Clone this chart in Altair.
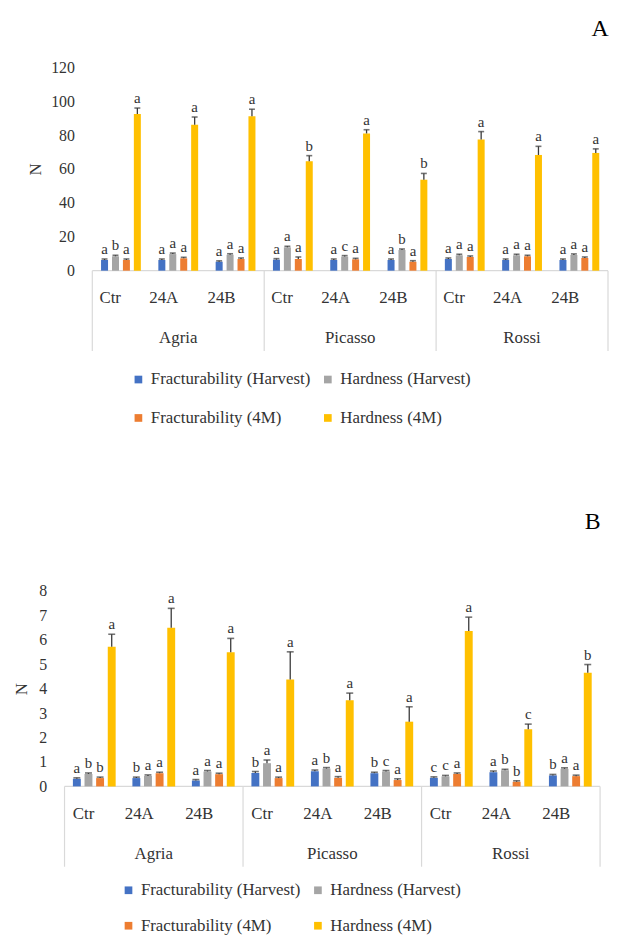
import altair as alt
import pandas as pd

groups = ["Agria", "Picasso", "Rossi"]
treatments = ["Ctr", "24A", "24B"]
series = ["Fracturability (Harvest)", "Hardness (Harvest)",
          "Fracturability (4M)", "Hardness (4M)"]
colors = ["#4472C4", "#A5A5A5", "#ED7D31", "#FFC000"]
# legend reading order (two rows of two)
legend_order = [series[0], series[2], series[1], series[3]]
legend_colors = [colors[0], colors[2], colors[1], colors[3]]

# ---- Panel A (order: Agria Ctr,24A,24B, Picasso Ctr,24A,24B, Rossi Ctr,24A,24B)
a_frac_harv = [6.3, 6.3, 5.3, 6.5, 6.3, 6.3, 6.9, 6.3, 6.3]
a_hard_harv = [8.5, 9.8, 9.4, 13.8, 8.3, 12.2, 9.1, 9.1, 9.3]
a_frac_4m = [6.3, 7.3, 6.9, 6.9, 6.7, 5.3, 8.1, 8.5, 7.5]
a_hard_4m = [92.5, 86.2, 91.1, 64.6, 81.0, 53.7, 77.4, 68.3, 69.5]
a_err_frac_harv = [0.6, 0.6, 0.5, 0.6, 0.6, 0.6, 0.6, 0.6, 0.6]
a_err_hard_harv = [0.6, 0.6, 0.6, 0.6, 0.6, 0.6, 0.6, 0.6, 0.6]
a_err_frac_4m = [0.6, 0.6, 0.6, 1.2, 0.6, 0.6, 0.6, 0.6, 0.6]
a_err_hard_4m = [3.5, 4.5, 4.2, 3.3, 2.2, 3.7, 4.7, 5.1, 2.4]
a_let_frac_harv = ["a", "a", "a", "a", "a", "a", "a", "a", "a"]
a_let_hard_harv = ["b", "a", "a", "a", "c", "b", "a", "a", "a"]
a_let_frac_4m = ["a", "a", "a", "a", "a", "a", "a", "a", "a"]
a_let_hard_4m = ["a", "a", "a", "b", "a", "b", "a", "a", "a"]
a_ticks = [0, 20, 40, 60, 80, 100, 120]

# ---- Panel B
b_frac_harv = [0.31, 0.34, 0.24, 0.55, 0.62, 0.54, 0.35, 0.58, 0.45]
b_hard_harv = [0.51, 0.43, 0.61, 0.95, 0.73, 0.61, 0.41, 0.66, 0.72]
b_frac_4m = [0.34, 0.54, 0.50, 0.34, 0.35, 0.26, 0.51, 0.19, 0.42]
b_hard_4m = [5.72, 6.50, 5.49, 4.38, 3.53, 2.65, 6.36, 2.34, 4.65]
b_err_frac_harv = [0.04, 0.04, 0.04, 0.06, 0.05, 0.04, 0.04, 0.05, 0.04]
b_err_hard_harv = [0.04, 0.04, 0.04, 0.13, 0.04, 0.04, 0.04, 0.04, 0.04]
b_err_frac_4m = [0.04, 0.04, 0.04, 0.04, 0.05, 0.05, 0.04, 0.04, 0.04]
b_err_hard_4m = [0.51, 0.79, 0.57, 1.13, 0.29, 0.61, 0.57, 0.21, 0.34]
b_let_frac_harv = ["a", "b", "a", "b", "a", "b", "c", "a", "b"]
b_let_hard_harv = ["b", "a", "a", "a", "b", "c", "c", "b", "a"]
b_let_frac_4m = ["b", "a", "a", "a", "a", "a", "a", "b", "a"]
b_let_hard_4m = ["a", "a", "a", "a", "a", "a", "a", "c", "b"]
b_ticks = [0, 1, 2, 3, 4, 5, 6, 7, 8]

cats = [f"{g}|{t}" for g in groups for t in treatments]
FONT = "Liberation Serif"
TXT = "#333333"
LINE = "#D9D9D9"


def build(vals, errs, lets):
    rows = []
    for s, v, e, l in zip(series, vals, errs, lets):
        for c, vv, ee, ll in zip(cats, v, e, l):
            rows.append({"cat": c, "series": s, "value": vv,
                         "top": vv + ee, "letter": ll})
    return pd.DataFrame(rows)


dfA = build([a_frac_harv, a_hard_harv, a_frac_4m, a_hard_4m],
            [a_err_frac_harv, a_err_hard_harv, a_err_frac_4m, a_err_hard_4m],
            [a_let_frac_harv, a_let_hard_harv, a_let_frac_4m, a_let_hard_4m])
dfB = build([b_frac_harv, b_hard_harv, b_frac_4m, b_hard_4m],
            [b_err_frac_harv, b_err_hard_harv, b_err_frac_4m, b_err_hard_4m],
            [b_let_frac_harv, b_let_hard_harv, b_let_frac_4m, b_let_hard_4m])

grp_df = pd.DataFrame({"cat": [f"{g}|24A" for g in groups], "name": groups})
sep_df = pd.DataFrame({"cat": [f"{g}|Ctr" for g in groups]})
end_df = pd.DataFrame({"cat": [cats[-1]]})
base_df = pd.DataFrame({"c0": [cats[0]], "c1": [cats[-1]]})


def panel(df, letter, width, height, x0, ticks, axis_offset,
          title_pad, pi, po, cap, legx, legy, rowpad, toff):
    xs = alt.Scale(domain=cats, paddingInner=0, paddingOuter=0, range=[x0, width])
    xax = alt.Axis(title=None, labelExpr="split(datum.label, '|')[1]",
                   domain=False, ticks=False, labelPadding=27, labelAngle=0,
                   labelFont=FONT, labelFontSize=17, labelColor=TXT)
    X = alt.X("cat:N", sort=cats, scale=xs, axis=xax)
    XO = alt.XOffset("series:N", sort=series,
                     scale=alt.Scale(domain=series, paddingInner=pi, paddingOuter=po))
    ys = alt.Scale(domain=[ticks[0], ticks[-1]], nice=False)
    yax = alt.Axis(title="N", values=ticks, tickCount=len(ticks), grid=False,
                   domain=False, ticks=False, labelPadding=18, offset=axis_offset,
                   labelOverlap=False, labelSeparation=0, labelBound=False,
                   labelFont=FONT, labelFontSize=16, labelColor=TXT,
                   titleFont=FONT, titleFontSize=17, titleFontWeight="normal",
                   titleColor=TXT, titlePadding=title_pad)

    def Y(field):
        return alt.Y(field, scale=ys, axis=yax)

    base = alt.Chart(df)
    bars = base.mark_bar().encode(
        x=X, xOffset=XO, y=Y("value:Q"),
        color=alt.Color("series:N",
                        scale=alt.Scale(domain=legend_order, range=legend_colors),
                        legend=alt.Legend(title=None, orient="none", legendX=legx,
                                          legendY=legy, columns=2, symbolType="square",
                                          symbolSize=60, symbolStrokeWidth=0,
                                          labelFont=FONT, labelFontSize=17,
                                          labelLimit=400,
                                          labelColor=TXT, rowPadding=rowpad,
                                          columnPadding=9, padding=0, labelOffset=4)),
    )
    err = base.mark_rule(color="#3A3A3A", strokeWidth=1.3).encode(
        x=X, xOffset=XO, y=Y("value:Q"), y2="top:Q")
    caps = base.mark_tick(color="#3A3A3A", thickness=1.6, size=cap).encode(
        x=X, xOffset=XO, y=Y("top:Q"))
    lets = base.mark_text(baseline="bottom", dy=-2, font=FONT, fontSize=15,
                          color=TXT).encode(x=X, xOffset=XO, y=Y("top:Q"),
                                            text="letter:N")
    glab = alt.Chart(grp_df).mark_text(font=FONT, fontSize=17, color=TXT,
                                       baseline="middle").encode(
        x=alt.X("cat:N", sort=cats), y=alt.value(height + 68), text="name:N")
    seps = alt.Chart(sep_df).mark_rule(color=LINE, strokeWidth=1.2).encode(
        x=alt.X("cat:N", sort=cats, bandPosition=0),
        y=alt.value(height), y2=alt.value(height + 81))
    endsep = alt.Chart(end_df).mark_rule(color=LINE, strokeWidth=1.2).encode(
        x=alt.X("cat:N", sort=cats, bandPosition=1),
        y=alt.value(height), y2=alt.value(height + 81))
    baseline = alt.Chart(base_df).mark_rule(color=LINE, strokeWidth=1.2).encode(
        x=alt.X("c0:N", bandPosition=0), x2=alt.X2("c1:N", bandPosition=1),
        y=alt.datum(0))
    return alt.layer(baseline, seps, endsep, bars, err, caps, lets, glab).properties(
        width=width, height=height,
        title=alt.TitleParams(letter, anchor="end", font=FONT, fontSize=24,
                              fontWeight="normal", color="#000000", offset=toff))


chartA = panel(dfA, "A", 548, 205, 28, a_ticks, -28, 6, 0.36, 0.8, 6, 66, 306, 21, 19)
chartB = panel(dfB, "B", 540, 197, 0, b_ticks, 0, 8, 0.32, 0.72, 7, 56, 293, 18, 50)

chart = alt.vconcat(chartA, chartB, spacing=84).resolve_scale(
    x="independent", y="independent", xOffset="independent", color="independent"
).properties(
    padding={"left": 5, "top": 5, "right": 0, "bottom": 0}
).configure_view(stroke=None).configure_axisY(labelOverlap=False)

chart.save("out.html", embed_options={"renderer": "svg", "actions": False})
